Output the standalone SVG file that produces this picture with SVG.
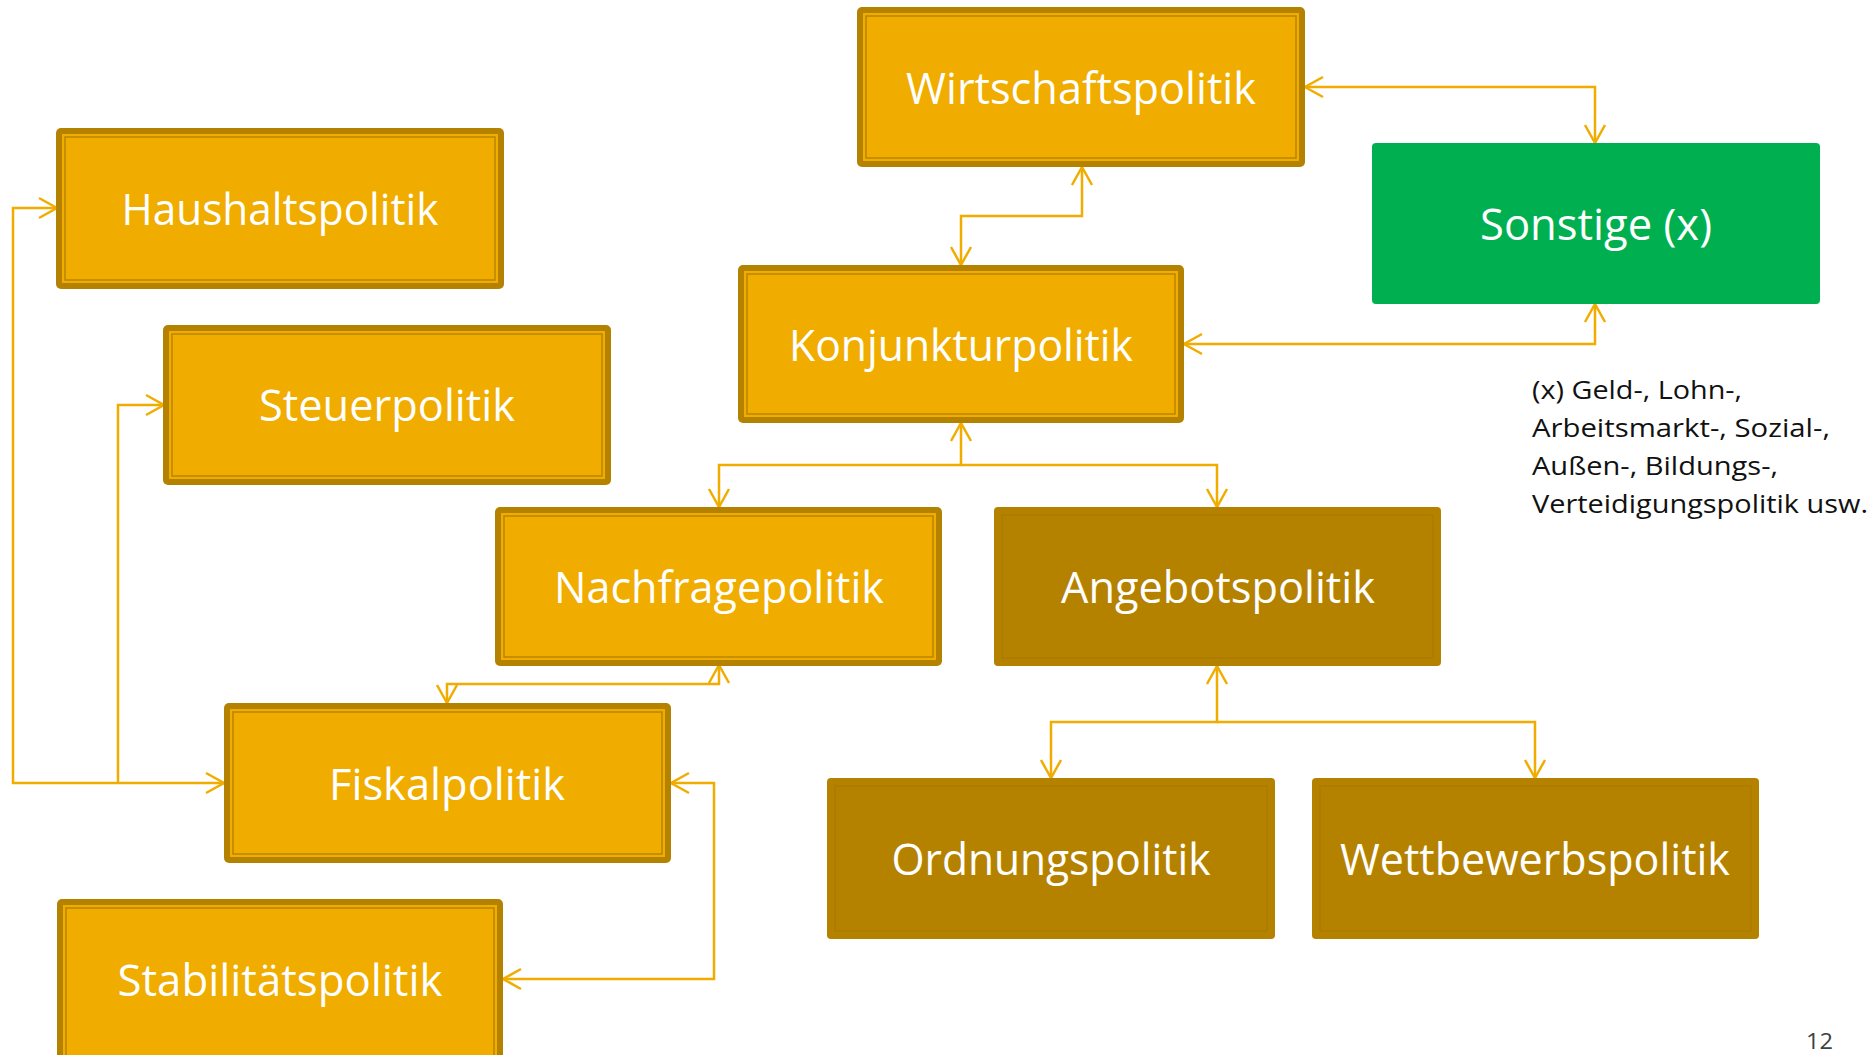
<svg xmlns="http://www.w3.org/2000/svg" width="1875" height="1055" viewBox="0 0 1875 1055">
<style>
.lbl{font-family:"Open Sans","Noto Sans","Liberation Sans",sans-serif;font-size:44px;fill:#ffffff;text-anchor:middle}
.note{font-family:"Open Sans","Noto Sans","Liberation Sans",sans-serif;font-size:26px;fill:#111111}
.outer{fill:#B58200}
.inner{fill:#F0AD00}
.line{fill:none;stroke:#B58200;stroke-width:1.4}
.dline{fill:none;stroke:#AA7A00;stroke-width:1.2}
.con{fill:none;stroke:#F0AD00;stroke-width:2.5}
</style>
<defs>
<marker id="a" viewBox="-21 -12 24 24" refX="0" refY="0" markerWidth="24" markerHeight="24" markerUnits="userSpaceOnUse" orient="auto-start-reverse">
<path d="M-18,-10 L0,0 L-18,10" fill="none" stroke="#F0AD00" stroke-width="2.5"/>
</marker>
</defs>
<rect width="1875" height="1055" fill="#ffffff"/>

<g id="connectors">
<path class="con" d="M1305,87 H1595 V143" marker-start="url(#a)" marker-end="url(#a)"/>
<path class="con" d="M1082,167 V216 H961 V265" marker-start="url(#a)" marker-end="url(#a)"/>
<path class="con" d="M1184,344 H1595 V304" marker-start="url(#a)" marker-end="url(#a)"/>
<path class="con" d="M961,423 V465 H719 V507" marker-start="url(#a)" marker-end="url(#a)"/>
<path class="con" d="M961,465 H1217 V507" marker-end="url(#a)"/>
<path class="con" d="M719,665 V684 H447 V703" marker-start="url(#a)" marker-end="url(#a)"/>
<path class="con" d="M1217,666 V722 H1051 V778" marker-start="url(#a)" marker-end="url(#a)"/>
<path class="con" d="M1217,722 H1535 V778" marker-end="url(#a)"/>
<path class="con" d="M224,783 H13 V208 H57" marker-start="url(#a)" marker-end="url(#a)"/>
<path class="con" d="M118,783 V405 H164" marker-end="url(#a)"/>
<path class="con" d="M671,783 H714 V979 H503" marker-start="url(#a)" marker-end="url(#a)"/>
</g>

<g id="wirtschaftspolitik">
<rect class="outer" x="857" y="7" width="448" height="160" rx="5"/>
<rect class="inner" x="863" y="13" width="436" height="148"/>
<rect class="line" x="866" y="16" width="430" height="142"/>
<text class="lbl" x="1081" y="104" textLength="350" lengthAdjust="spacingAndGlyphs">Wirtschaftspolitik</text>
</g>

<g id="sonstige">
<rect x="1372" y="143" width="448" height="161" rx="4" fill="#00B050"/>
<text class="lbl" x="1596" y="240" textLength="232" lengthAdjust="spacingAndGlyphs">Sonstige (x)</text>
</g>

<g id="haushaltspolitik">
<rect class="outer" x="56" y="128" width="448" height="161" rx="5"/>
<rect class="inner" x="62" y="134" width="436" height="149"/>
<rect class="line" x="65" y="137" width="430" height="143"/>
<text class="lbl" x="280" y="225" textLength="317" lengthAdjust="spacingAndGlyphs">Haushaltspolitik</text>
</g>

<g id="konjunkturpolitik">
<rect class="outer" x="738" y="265" width="446" height="158" rx="5"/>
<rect class="inner" x="744" y="271" width="434" height="146"/>
<rect class="line" x="747" y="274" width="428" height="140"/>
<text class="lbl" x="961" y="361" textLength="344" lengthAdjust="spacingAndGlyphs">Konjunkturpolitik</text>
</g>

<g id="steuerpolitik">
<rect class="outer" x="163" y="325" width="448" height="160" rx="5"/>
<rect class="inner" x="169" y="331" width="436" height="148"/>
<rect class="line" x="172" y="334" width="430" height="142"/>
<text class="lbl" x="387" y="421" textLength="256" lengthAdjust="spacingAndGlyphs">Steuerpolitik</text>
</g>

<g id="nachfragepolitik">
<rect class="outer" x="495" y="507" width="447" height="159" rx="5"/>
<rect class="inner" x="501" y="513" width="435" height="147"/>
<rect class="line" x="504" y="516" width="429" height="141"/>
<text class="lbl" x="719" y="603" textLength="330" lengthAdjust="spacingAndGlyphs">Nachfragepolitik</text>
</g>

<g id="angebotspolitik">
<rect class="outer" x="994" y="507" width="447" height="159" rx="4"/>
<rect class="dline" x="1002" y="515" width="431" height="143"/>
<text class="lbl" x="1218" y="603" textLength="314" lengthAdjust="spacingAndGlyphs">Angebotspolitik</text>
</g>

<g id="fiskalpolitik">
<rect class="outer" x="224" y="703" width="447" height="160" rx="5"/>
<rect class="inner" x="230" y="709" width="435" height="148"/>
<rect class="line" x="233" y="712" width="429" height="142"/>
<text class="lbl" x="447" y="800" textLength="236" lengthAdjust="spacingAndGlyphs">Fiskalpolitik</text>
</g>

<g id="ordnungspolitik">
<rect class="outer" x="827" y="778" width="448" height="161" rx="4"/>
<rect class="dline" x="835" y="786" width="432" height="145"/>
<text class="lbl" x="1051" y="875" textLength="319" lengthAdjust="spacingAndGlyphs">Ordnungspolitik</text>
</g>

<g id="wettbewerbspolitik">
<rect class="outer" x="1312" y="778" width="447" height="161" rx="4"/>
<rect class="dline" x="1320" y="786" width="431" height="145"/>
<text class="lbl" x="1535" y="875" textLength="390" lengthAdjust="spacingAndGlyphs">Wettbewerbspolitik</text>
</g>

<g id="stabilitaetspolitik">
<rect class="outer" x="57" y="899" width="446" height="170" rx="5"/>
<rect class="inner" x="63" y="905" width="434" height="158"/>
<rect class="line" x="66" y="908" width="428" height="152"/>
<text class="lbl" x="280" y="996" textLength="325" lengthAdjust="spacingAndGlyphs">Stabilitätspolitik</text>
</g>

<g id="note">
<text class="note" x="1532" y="399" textLength="210" lengthAdjust="spacingAndGlyphs">(x) Geld-, Lohn-,</text>
<text class="note" x="1532" y="437" textLength="298" lengthAdjust="spacingAndGlyphs">Arbeitsmarkt-, Sozial-,</text>
<text class="note" x="1532" y="475" textLength="246" lengthAdjust="spacingAndGlyphs">Außen-, Bildungs-,</text>
<text class="note" x="1532" y="513" textLength="336" lengthAdjust="spacingAndGlyphs">Verteidigungspolitik usw.</text>
</g>

<text x="1806" y="1049" font-family="Open Sans, Liberation Sans, sans-serif" font-size="21" fill="#404040" textLength="27" lengthAdjust="spacingAndGlyphs">12</text>
</svg>
